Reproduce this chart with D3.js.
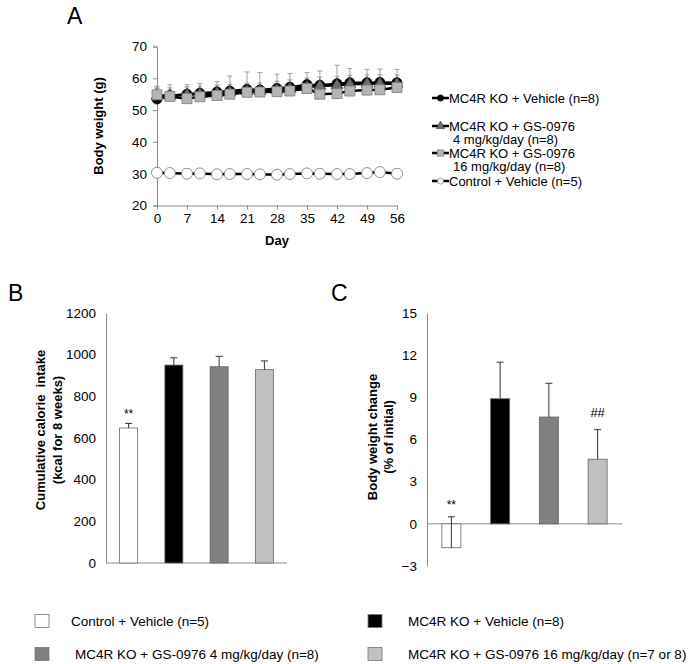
<!DOCTYPE html>
<html>
<head>
<meta charset="utf-8">
<script src="https://cdn.jsdelivr.net/npm/d3@7"></script>
<style>
  body { margin: 0; background: #fff; }
  svg text { font-family: "Liberation Sans", Arial, sans-serif; fill: #000; }
</style>
</head>
<body>
<div id="chart"></div>
<script>
// ---- panel A data: body weight over time ----
var days = [0, 3, 7, 10, 14, 17, 21, 24, 28, 31, 35, 38, 42, 45, 49, 52, 56];
var vehicle = [53.5, 54.5, 55, 55.3, 55.7, 56, 56.5, 56.3, 56.8, 57.2, 58, 57.8, 58.3, 58.6, 58.6, 58.7, 58.6];
var vehicleErr = [4, 3.5, 3, 3, 3.3, 4.7, 5.5, 5.5, 4.5, 4.3, 3.8, 4.5, 5.8, 4.5, 4.2, 4.2, 4.2];
var gs4 = [54.5, 54.5, 54.8, 55, 55.3, 55.6, 56, 56, 56.3, 56.7, 57.3, 57.6, 57.8, 58.1, 58.3, 58.3, 58.3];
var gs4Err = [2.5, 2.5, 2.5, 2.5, 2.5, 2.5, 2.5, 2.5, 2.8, 2.8, 2.8, 2.8, 2.8, 2.8, 2.8, 2.8, 2.8];
var gs16 = [54.8, 54.3, 53.6, 54.2, 54.6, 55, 55.6, 55.7, 55.8, 56, 56.8, 55, 55.2, 56, 56.3, 56.4, 57.1];
var gs16Err = [2, 2, 2, 2, 2, 2, 2, 2, 2, 2, 2, 2, 2, 2, 2, 2, 2];
var control = [30.3, 30.2, 30, 30.1, 29.8, 29.9, 29.9, 29.8, 29.7, 29.9, 30.1, 30, 29.9, 29.9, 30.2, 30.5, 30];

// ---- panels B and C ----
var groups = ["Control + Vehicle (n=5)", "MC4R KO + Vehicle (n=8)", "MC4R KO + GS-0976 4 mg/kg/day (n=8)", "MC4R KO + GS-0976 16 mg/kg/day (n=7 or 8)"];
var calories = [648, 950, 942, 928];
var caloriesErr = [22, 35, 50, 42];
var weightChange = [-1.7, 8.9, 7.6, 4.6];
var weightChangeErr = [2.2, 2.6, 2.4, 2.1];
var calorieTicks = [0, 200, 400, 600, 800, 1000, 1200];
var changeTicks = [-3, 0, 3, 6, 9, 12, 15];
var dayTicks = [0, 7, 14, 21, 28, 35, 42, 49, 56];
var weightTicks = [20, 30, 40, 50, 60, 70];

var barColors = ["#ffffff", "#000000", "#808080", "#c0c0c0"];
var axisGray = "#8c8c8c";

var svg = d3.select("#chart").append("svg")
  .attr("width", 695)
  .attr("height", 664);

var style_axis = function (g) {
  g.selectAll("path").attr("stroke", axisGray);
  g.selectAll("line").attr("stroke", axisGray);
  g.selectAll("text").style("font-size", "13.5px");
};

// ================= Panel A =================
var xA = d3.scaleLinear().domain([0, 56]).range([157, 397]);
var yA = d3.scaleLinear().domain([20, 70]).range([205.5, 46.5]);

svg.append("text").attr("x", 67).attr("y", 24).style("font-size", "23px").text("A");

svg.append("g")
  .attr("transform", "translate(157,0)")
  .call(d3.axisLeft(yA).tickValues(weightTicks).tickSizeOuter(0).tickSize(4).tickPadding(6))
  .call(style_axis);

svg.append("g")
  .attr("transform", "translate(0,205.5)")
  .call(d3.axisBottom(xA).tickValues(dayTicks).tickSizeOuter(0).tickSize(4).tickPadding(4))
  .call(style_axis);

svg.append("text")
  .attr("transform", "translate(103,126) rotate(-90)")
  .attr("text-anchor", "middle")
  .style("font-size", "13px").style("font-weight", "bold")
  .text("Body weight (g)");

svg.append("text")
  .attr("x", 277).attr("y", 245)
  .attr("text-anchor", "middle")
  .style("font-size", "13px").style("font-weight", "bold")
  .text("Day");

var seriesA = [
  { name: "vehicle", vals: vehicle, err: vehicleErr, marker: "circle", fill: "#000", stroke: "#000" },
  { name: "gs4", vals: gs4, err: gs4Err, marker: "triangle", fill: "#6e6e6e", stroke: "#333" },
  { name: "gs16", vals: gs16, err: gs16Err, marker: "square", fill: "#b4b4b4", stroke: "#7a7a7a" },
  { name: "control", vals: control, err: null, marker: "circle", fill: "#fff", stroke: "#777" }
];

var line = d3.line()
  .x(function (d) { return xA(d.day); })
  .y(function (d) { return yA(d.v); });

var symbolFor = function (m, size) {
  var t = m === "triangle" ? d3.symbolTriangle : (m === "square" ? d3.symbolSquare : d3.symbolCircle);
  return d3.symbol().type(t).size(size)();
};

// error bars (upward only)
seriesA.forEach(function (s) {
  if (!s.err) return;
  var pts = days.map(function (d, i) { return { day: d, v: s.vals[i], e: s.err[i] }; });
  var g = svg.append("g").attr("stroke", "#8a8a8a").attr("stroke-width", 0.8);
  g.selectAll("line.v").data(pts).enter().append("line")
    .attr("x1", function (d) { return xA(d.day); })
    .attr("x2", function (d) { return xA(d.day); })
    .attr("y1", function (d) { return yA(d.v); })
    .attr("y2", function (d) { return yA(d.v + d.e); });
  g.selectAll("line.c").data(pts).enter().append("line")
    .attr("x1", function (d) { return xA(d.day) - 2.5; })
    .attr("x2", function (d) { return xA(d.day) + 2.5; })
    .attr("y1", function (d) { return yA(d.v + d.e); })
    .attr("y2", function (d) { return yA(d.v + d.e); });
});

seriesA.forEach(function (s) {
  var pts = days.map(function (d, i) { return { day: d, v: s.vals[i] }; });
  svg.append("path")
    .datum(pts)
    .attr("fill", "none")
    .attr("stroke", "#000")
    .attr("stroke-width", 2.5)
    .attr("d", line);
  var size = s.marker === "square" ? 100 : (s.marker === "triangle" ? 60 : 80);
  if (s.name === "control") size = 95;
  svg.append("g").selectAll("path").data(pts).enter().append("path")
    .attr("transform", function (d) { return "translate(" + xA(d.day) + "," + yA(d.v) + ")"; })
    .attr("d", symbolFor(s.marker, size))
    .attr("fill", s.fill)
    .attr("stroke", s.stroke)
    .attr("stroke-width", 0.8);
});

// legend A
var legendA = [
  { s: seriesA[0], lines: ["MC4R KO + Vehicle (n=8)"], y: 98 },
  { s: seriesA[1], lines: ["MC4R KO + GS-0976", "4 mg/kg/day (n=8)"], y: 126 },
  { s: seriesA[2], lines: ["MC4R KO + GS-0976", "16 mg/kg/day (n=8)"], y: 153 },
  { s: seriesA[3], lines: ["Control + Vehicle (n=5)"], y: 181 }
];
legendA.forEach(function (l) {
  svg.append("line")
    .attr("x1", 432).attr("x2", 449)
    .attr("y1", l.y).attr("y2", l.y)
    .attr("stroke", "#000").attr("stroke-width", 2.5);
  svg.append("path")
    .attr("transform", "translate(440.5," + l.y + ")")
    .attr("d", symbolFor(l.s.marker, l.s.marker === "square" ? 40 : 30))
    .attr("fill", l.s.fill)
    .attr("stroke", l.s.stroke)
    .attr("stroke-width", 0.7);
  l.lines.forEach(function (t, i) {
    svg.append("text")
      .attr("x", i === 0 ? 449 : 453)
      .attr("y", l.y + i * 13.5)
      .attr("dy", "0.35em")
      .style("font-size", "13px")
      .text(t);
  });
});

// ================= Panel B =================
var xB = d3.scaleBand().domain(groups).range([106, 287]);
var yB = d3.scaleLinear().domain([0, 1200]).range([563, 313]);
var barW = 18;

svg.append("text").attr("x", 8).attr("y", 301).style("font-size", "23px").text("B");

svg.append("g")
  .attr("transform", "translate(106,0)")
  .call(d3.axisLeft(yB).tickValues(calorieTicks).tickFormat(d3.format("d")).tickSizeOuter(0).tickSize(0).tickPadding(10))
  .call(style_axis);

svg.append("line")
  .attr("x1", 106).attr("x2", 287)
  .attr("y1", yB(0)).attr("y2", yB(0))
  .attr("stroke", axisGray);

svg.append("text")
  .attr("transform", "translate(0,430) rotate(-90)")
  .attr("text-anchor", "middle")
  .style("font-size", "13px").style("font-weight", "bold")
  .selectAll("tspan")
  .data(["Cumulative calorie  intake", "(kcal for 8 weeks)"])
  .enter().append("tspan")
  .attr("x", 0)
  .attr("y", function (d, i) { return 45 + i * 17; })
  .style("white-space", "pre")
  .text(function (d) { return d; });

var barsB = groups.map(function (g, i) { return { g: g, v: calories[i], e: caloriesErr[i], c: barColors[i] }; });

svg.append("g").selectAll("rect").data(barsB).enter().append("rect")
  .attr("x", function (d) { return xB(d.g) + xB.bandwidth() / 2 - barW / 2; })
  .attr("y", function (d) { return yB(d.v); })
  .attr("width", barW)
  .attr("height", function (d) { return yB(0) - yB(d.v); })
  .attr("fill", function (d) { return d.c; })
  .attr("stroke", "#666")
  .attr("stroke-width", 0.8);

var errB = svg.append("g").attr("stroke", "#333").attr("stroke-width", 1);
errB.selectAll("line.v").data(barsB).enter().append("line")
  .attr("x1", function (d) { return xB(d.g) + xB.bandwidth() / 2; })
  .attr("x2", function (d) { return xB(d.g) + xB.bandwidth() / 2; })
  .attr("y1", function (d) { return yB(d.v); })
  .attr("y2", function (d) { return yB(d.v + d.e); });
errB.selectAll("line.c").data(barsB).enter().append("line")
  .attr("x1", function (d) { return xB(d.g) + xB.bandwidth() / 2 - 3.5; })
  .attr("x2", function (d) { return xB(d.g) + xB.bandwidth() / 2 + 3.5; })
  .attr("y1", function (d) { return yB(d.v + d.e); })
  .attr("y2", function (d) { return yB(d.v + d.e); });

svg.append("text")
  .attr("x", xB(groups[0]) + xB.bandwidth() / 2)
  .attr("y", yB(calories[0] + caloriesErr[0]) - 5)
  .attr("text-anchor", "middle")
  .style("font-size", "12px")
  .text("**");

// ================= Panel C =================
var xC = d3.scaleBand().domain(groups).range([427, 622]);
var yC = d3.scaleLinear().domain([-3, 15]).range([566, 313]);
var barWC = 19;

svg.append("text").attr("x", 331).attr("y", 301).style("font-size", "23px").text("C");

svg.append("g")
  .attr("transform", "translate(427,0)")
  .call(d3.axisLeft(yC).tickValues(changeTicks).tickSizeOuter(0).tickSize(0).tickPadding(10))
  .call(style_axis);

svg.append("line")
  .attr("x1", 427).attr("x2", 622)
  .attr("y1", yC(0)).attr("y2", yC(0))
  .attr("stroke", axisGray);

svg.append("text")
  .attr("transform", "translate(0,437) rotate(-90)")
  .attr("text-anchor", "middle")
  .style("font-size", "13px").style("font-weight", "bold")
  .selectAll("tspan")
  .data(["Body weight change", "(% of initial)"])
  .enter().append("tspan")
  .attr("x", 0)
  .attr("y", function (d, i) { return 377 + i * 16; })
  .text(function (d) { return d; });

var barsC = groups.map(function (g, i) { return { g: g, v: weightChange[i], e: weightChangeErr[i], c: barColors[i] }; });

svg.append("g").selectAll("rect").data(barsC).enter().append("rect")
  .attr("x", function (d) { return xC(d.g) + xC.bandwidth() / 2 - barWC / 2; })
  .attr("y", function (d) { return yC(Math.max(0, d.v)); })
  .attr("width", barWC)
  .attr("height", function (d) { return Math.abs(yC(0) - yC(d.v)); })
  .attr("fill", function (d) { return d.c; })
  .attr("stroke", "#666")
  .attr("stroke-width", 0.8);

var errC = svg.append("g").attr("stroke", "#333").attr("stroke-width", 1);
errC.selectAll("line.v").data(barsC).enter().append("line")
  .attr("x1", function (d) { return xC(d.g) + xC.bandwidth() / 2; })
  .attr("x2", function (d) { return xC(d.g) + xC.bandwidth() / 2; })
  .attr("y1", function (d) { return yC(d.v); })
  .attr("y2", function (d) { return yC(d.v + d.e); });
errC.selectAll("line.c").data(barsC).enter().append("line")
  .attr("x1", function (d) { return xC(d.g) + xC.bandwidth() / 2 - 3.5; })
  .attr("x2", function (d) { return xC(d.g) + xC.bandwidth() / 2 + 3.5; })
  .attr("y1", function (d) { return yC(d.v + d.e); })
  .attr("y2", function (d) { return yC(d.v + d.e); });

svg.append("text")
  .attr("x", xC(groups[0]) + xC.bandwidth() / 2)
  .attr("y", yC(weightChange[0] + weightChangeErr[0]) - 8)
  .attr("text-anchor", "middle")
  .style("font-size", "12px")
  .text("**");

svg.append("text")
  .attr("x", xC(groups[3]) + xC.bandwidth() / 2)
  .attr("y", yC(weightChange[3] + weightChangeErr[3]) - 13)
  .attr("text-anchor", "middle")
  .style("font-size", "13px")
  .text("##");

// ================= bottom legend =================
var legendPos = [
  { x: 35, y: 621, tx: 71 },
  { x: 368, y: 621, tx: 408 },
  { x: 35, y: 654, tx: 75 },
  { x: 368, y: 654, tx: 408 }
];
groups.forEach(function (g, i) {
  var p = legendPos[i];
  svg.append("rect")
    .attr("x", p.x).attr("y", p.y - 6.5)
    .attr("width", 14).attr("height", 13)
    .attr("fill", barColors[i])
    .attr("stroke", "#777")
    .attr("stroke-width", 0.8);
  svg.append("text")
    .attr("x", p.tx).attr("y", p.y)
    .attr("dy", "0.35em")
    .style("font-size", "13.5px")
    .text(g);
});
</script>
</body>
</html>
